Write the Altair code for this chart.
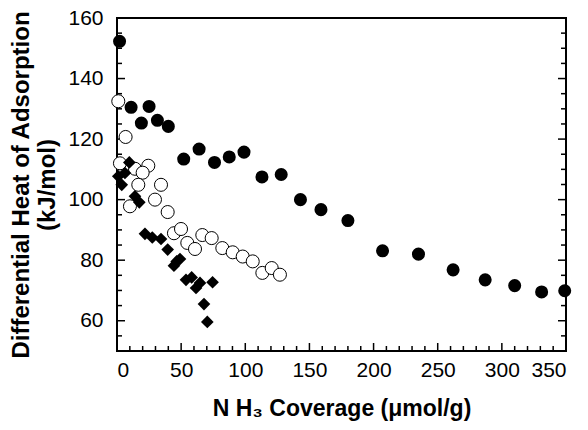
import altair as alt
import pandas as pd

# Filled circles
s1_x = [2, 11, 25, 19, 31.5, 40, 52, 64, 76, 87.5, 99, 113, 128, 143, 159, 180, 207, 235, 262, 287, 310, 331, 349]
s1_y = [152.3, 130.5, 130.8, 125.3, 126.2, 124.2, 113.4, 116.7, 112.3, 114.1, 115.7, 107.5, 108.3, 100, 96.7, 93.1,
        83.1, 82.0, 76.8, 73.5, 71.6, 69.5, 69.9]
# Open circles
s2_x = [1, 6.7, 2.3, 14, 24.4, 20, 16.6, 34.3, 10.1, 29.6, 39.5, 44.4, 49.9, 54.8, 60.8, 66.5, 73.8, 82.1, 90.2, 98,
        105.8, 113.3, 120.6, 127]
s2_y = [132.5, 120.7, 112.0, 110.2, 111.2, 108.9, 104.9, 104.9, 97.8, 100.0, 95.9, 88.9, 90.3, 85.7, 83.7, 88.3, 87.3,
        84.0, 82.6, 81.2, 79.6, 75.8, 77.4, 75.2]
# Filled diamonds
s3_x = [1, 3.7, 6.2, 9.6, 14, 17.4, 21.8, 27.5, 34.3, 39.5, 44.4, 46.5, 49.1, 53.8, 58.2, 61.6, 64.7, 74.5, 67.8, 70.4]
s3_y = [107.7, 104.9, 108.8, 112.3, 101.1, 99.1, 88.7, 87.5, 87.0, 83.5, 78.2, 79.6, 80.4, 73.5, 74.3, 70.8, 72.5,
        72.7, 65.5, 59.6]

x_labels = [0, 50, 100, 150, 200, 250, 300, 350]
y_labels = [60, 80, 100, 120, 140, 160]
x_major = [50, 100, 150, 200, 250, 300]
x_minor = [v for v in range(10, 350, 10) if v % 50 != 0]
y_major = [60, 80, 100, 120, 140]
y_minor = [v for v in range(55, 160, 5) if v % 20 != 0]

W, H = 449, 333
FONT = "Liberation Sans"

xs = alt.Scale(domain=[0, 350], nice=False, zero=False)
ys = alt.Scale(domain=[50, 160], nice=False, zero=False)
x_axis = alt.Axis(values=x_labels, ticks=False, domain=False, grid=False, labelFontSize=21, labelFont=FONT,
                  labelColor="black", labelPadding=8, title="N H\u2083 Coverage (\u03bcmol/g)", titleFont=FONT,
                  titleFontSize=23, titleFontWeight="bold", titleColor="black", titlePadding=17)
y_axis = alt.Axis(values=y_labels, ticks=False, domain=False, grid=False, labelFontSize=21, labelFont=FONT,
                  labelColor="black", labelPadding=14, title=["Differential Heat of Adsorption", "(kJ/mol)"],
                  titleFont=FONT, titleFontSize=24, titleFontWeight="bold", titleColor="black", titlePadding=8)


def X(f):
    return alt.X(f, type="quantitative", scale=xs, axis=x_axis)


def Y(f):
    return alt.Y(f, type="quantitative", scale=ys, axis=y_axis)


d1 = pd.DataFrame({"x": s1_x, "y": s1_y})
d2 = pd.DataFrame({"x": s2_x, "y": s2_y})
d3 = pd.DataFrame({"x": s3_x, "y": s3_y})

p1 = alt.Chart(d1).mark_point(shape="circle", filled=True, color="black", size=170, opacity=1).encode(x=X("x"), y=Y("y"))
p2 = alt.Chart(d2).mark_point(shape="circle", filled=True, fill="white", stroke="black", strokeWidth=1, size=170,
                              opacity=1).encode(x=X("x"), y=Y("y"))
p3 = alt.Chart(d3).mark_point(shape="diamond", filled=True, color="black", size=160, opacity=1).encode(x=X("x"), y=Y("y"))

rule = dict(color="black", strokeWidth=1.5)
ly_maj = alt.Chart(pd.DataFrame({"v": y_major})).mark_rule(**rule).encode(y=Y("v"), x=alt.value(0), x2=alt.value(8))
ly_min = alt.Chart(pd.DataFrame({"v": y_minor})).mark_rule(**rule).encode(y=Y("v"), x=alt.value(0), x2=alt.value(5))
ry_maj = alt.Chart(pd.DataFrame({"v": y_major})).mark_rule(**rule).encode(y=Y("v"), x=alt.value(W), x2=alt.value(W - 8))
ry_min = alt.Chart(pd.DataFrame({"v": y_minor})).mark_rule(**rule).encode(y=Y("v"), x=alt.value(W), x2=alt.value(W - 5))
bx_maj = alt.Chart(pd.DataFrame({"v": x_major})).mark_rule(**rule).encode(x=X("v"), y=alt.value(H), y2=alt.value(H - 8))
bx_min = alt.Chart(pd.DataFrame({"v": x_minor})).mark_rule(**rule).encode(x=X("v"), y=alt.value(H), y2=alt.value(H - 5))

chart = alt.layer(ly_maj, ly_min, ry_maj, ry_min, bx_maj, bx_min, p2, p1, p3).properties(
    width=W, height=H, autosize=alt.AutoSizeParams(type="none"),
    padding={"left": 109, "top": 10, "right": 14, "bottom": 71},
    background="white",
).configure_view(stroke="black", strokeWidth=2)

chart.save("out.html", embed_options={"renderer": "svg", "actions": False})
